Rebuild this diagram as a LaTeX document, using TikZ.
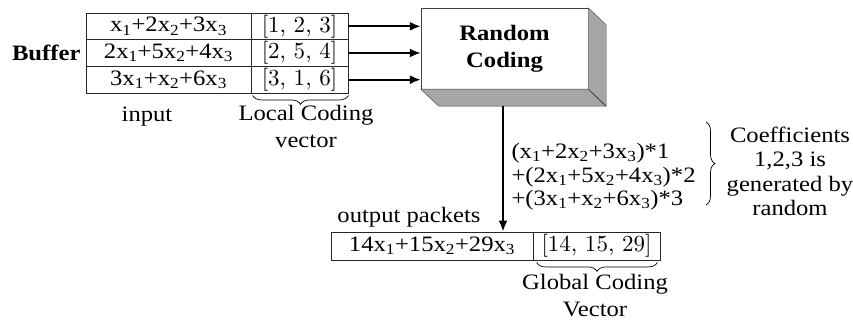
\documentclass[tikz,border=0pt]{standalone}
\usepackage{fontspec}
\setmainfont[FakeStretch=1.12]{Liberation Serif}
\newfontfamily\vecfont{lmroman10-regular.otf}
\usepackage{tikz}
\usetikzlibrary{calc}
\usetikzlibrary{arrows.meta}
\usetikzlibrary{decorations.pathreplacing}
\tikzset{>={Latex[length=11pt,width=9pt]}}
\tikzset{cell/.style={draw=black!85, line width=0.8pt, minimum height=26.7pt, inner sep=0pt}}
\tikzset{brc/.style={decorate, decoration={brace, amplitude=9pt}, line width=0.7pt}}
\tikzset{lbrc/.style={brc, decoration={mirror}}}
\newcommand{\xs}[1]{x\textsubscript{#1}}
\newcommand{\cv}[1]{{\vecfont\fontsize{23}{27}\selectfont[#1]}}

\begin{document}
\begin{tikzpicture}[x=1pt, y=-1pt, font=\fontsize{22}{27}\selectfont]
\useasboundingbox (0,0) rectangle (853,320);
% buffer
\node (in1) at (168.5,26.3) [cell, minimum width=165pt] {\xs1+2\xs2+3\xs3};
\node (in2) at (168.5,53) [cell, minimum width=165pt] {2\xs1+5\xs2+4\xs3};
\node (in3) at (168.5,79.7) [cell, minimum width=165pt] {3\xs1+\xs2+6\xs3};
\node (c1) at (299.5,26.3) [cell, minimum width=97pt] {\cv{1, 2, 3}};
\node (c2) at (299.5,53) [cell, minimum width=97pt] {\cv{2, 5, 4}};
\node (c3) at (299.5,79.7) [cell, minimum width=97pt] {\cv{3, 1, 6}};
\node (buf) at (84,53) [anchor=east, font=\fontsize{22}{27}\selectfont\bfseries] {Buffer};
\node (inp) at (147,117) [] {input};
\draw[lbrc] ($(c3.south west)+(2,2)$) -- ($(c3.south east)+(0,2)$);
\node (lcv) at (306,126.5) [align=center] {Local Coding\\vector};
% random coding box
\node (rc) at (504.5,48.5) [draw=black!75, fill=white, minimum width=167pt, minimum height=81pt, align=center, font=\fontsize{22}{27}\selectfont\bfseries] {Random\\Coding};
\filldraw[fill=black!35, draw=black!75] (rc.north east) -- ++(18,17) -- ++(0,81) -- (rc.south east) -- cycle;
\filldraw[fill=black!35, draw=black!75] (rc.south west) -- ++(18,17) -- ++(167,0) -- (rc.south east) -- cycle;
\draw[black!75] (rc.south east) -- ++(18,17);
\foreach \r in {1,2,3}
  \draw[->, line width=2pt] (c\r.east) -- (c\r.east -| rc.west);
% output
\node (ob) at (432,246) [cell, minimum width=202pt, minimum height=28pt] {14\xs1+15\xs2+29\xs3};
\node (ov) at (596.5,246) [cell, minimum width=127pt, minimum height=28pt] {\cv{14, 15, 29}};
\node (opk) at (409,217) [] {output packets};
\coordinate (rcb) at (503,106);
\draw[->, line width=2pt] (rcb) -- (rcb |- ob.north);
\draw[lbrc] ($(ov.south west)+(4,2)$) -- ($(ov.south east)+(-3,2)$);
\node (gcv) at (595,295.5) [align=center] {Global Coding\\Vector};
% sum and coefficients
\node (eq) at (508,177) [anchor=west, align=left, font=\fontsize{22}{23.5}\selectfont] {(\xs1+2\xs2+3\xs3)*1\\+(2\xs1+5\xs2+4\xs3)*2\\+(3\xs1+\xs2+6\xs3)*3};
\draw[brc] (706,122) -- (706,205);
\node (coef) at (790,171.5) [align=center, font=\fontsize{22}{24.3}\selectfont] {Coefficients\\1,2,3 is\\generated by\\random};
\end{tikzpicture}
\end{document}
